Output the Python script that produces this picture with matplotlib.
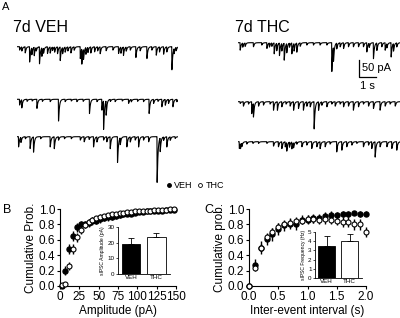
import numpy as np
import matplotlib
matplotlib.use("Agg")
import matplotlib.pyplot as plt
from matplotlib.lines import Line2D

plt.rcParams['font.family'] = ['Liberation Sans', 'DejaVu Sans']

# ---- panel A: sIPSC events (time s, amplitude pA) ----
veh1_t = [0.16, 0.29, 0.49, 0.75, 0.88, 1.02, 1.14, 1.33, 1.47, 1.57, 1.80, 1.96, 2.10, 2.22, 2.39, 2.55,
          2.69, 2.84, 3.00, 3.18, 3.37, 3.73, 3.82, 3.92, 4.06, 4.18, 4.35, 4.57, 4.75, 4.90, 5.25, 5.65,
          5.98, 6.12, 6.27, 6.43, 6.67, 7.00, 7.25, 7.65, 7.94, 8.20, 8.39, 8.63, 8.82, 9.12, 9.25, 9.37]
veh1_a = [10, 12, 18, 45, 20, 25, 10, 50, 25, 15, 20, 18, 10, 15, 20, 40,
          18, 15, 12, 18, 10, 35, 45, 30, 20, 15, 18, 15, 12, 20, 12, 10,
          20, 18, 25, 12, 10, 32, 12, 35, 10, 25, 15, 22, 15, 68, 15, 10]
veh2_t = [0.16, 0.29, 0.60, 0.90, 1.18, 1.50, 1.96, 2.45, 2.84, 3.20, 3.53, 3.90, 4.27, 4.71, 5.00, 5.10,
          5.25, 5.50, 5.78, 6.20, 6.57, 6.73, 7.10, 7.45, 7.78, 8.04, 8.30, 8.53, 8.73, 8.92, 9.18, 9.41]
veh2_a = [17, 24, 6, 5, 27, 6, 7, 64, 7, 5, 7, 6, 42, 7, 32, 84,
          42, 6, 7, 5, 12, 7, 6, 7, 42, 12, 6, 22, 17, 12, 22, 7]
veh3_t = [0.10, 0.24, 0.50, 0.78, 0.98, 1.40, 1.96, 2.20, 2.45, 2.80, 3.20, 3.73, 3.96, 4.25, 4.51, 4.71,
          5.10, 5.29, 5.49, 5.92, 6.08, 6.47, 6.67, 6.96, 7.16, 7.45, 7.75, 8.25, 8.43, 8.63, 8.82, 9.02, 9.31]
veh3_a = [30, 15, 6, 35, 45, 6, 30, 35, 10, 6, 6, 10, 15, 8, 30, 15,
          10, 15, 35, 76, 20, 30, 15, 10, 30, 10, 15, 135, 40, 10, 30, 10, 5]
thc1_t = [0.10, 0.25, 0.39, 0.88, 1.37, 1.67, 1.82, 1.96, 2.10, 2.25, 2.41, 2.55, 2.69, 2.84, 3.00, 3.14,
          3.27, 3.43, 3.63, 4.02, 4.41, 4.80, 5.20, 5.49, 5.59, 5.78, 5.98, 6.18, 6.47, 6.76, 7.06, 7.35,
          7.55, 7.69, 7.94, 8.14, 8.43, 8.63, 8.73, 8.98, 9.12, 9.31]
thc1_a = [22, 12, 10, 12, 7, 17, 12, 10, 32, 22, 37, 22, 50, 27, 12, 32,
          22, 27, 10, 7, 7, 7, 7, 85, 42, 17, 12, 17, 12, 12, 12, 12,
          27, 12, 47, 22, 12, 22, 12, 42, 22, 12]
thc2_t = [0.10, 0.29, 0.59, 0.78, 0.88, 1.18, 1.47, 1.86, 2.06, 2.29, 2.55, 2.80, 3.04, 3.24, 3.53, 3.82,
          4.02, 4.22, 4.45, 4.71, 4.90, 5.20, 5.49, 5.69, 5.98, 6.18, 6.47, 6.76, 7.06, 7.35, 7.65, 7.94,
          8.33, 8.63, 8.92, 9.22]
thc2_a = [5, 13, 7, 35, 40, 13, 10, 7, 25, 25, 15, 7, 13, 25, 20, 25,
          13, 15, 80, 25, 10, 15, 7, 13, 7, 15, 13, 25, 15, 7, 13, 20,
          25, 13, 7, 13]
thc3_t = [0.05, 0.12, 0.20, 0.49, 0.85, 1.18, 1.67, 2.06, 2.35, 2.55, 2.75, 2.84, 3.00, 3.14, 3.24, 3.43,
          3.73, 4.02, 4.31, 4.61, 4.80, 5.10, 5.39, 5.78, 6.08, 6.37, 6.67, 6.96, 7.35, 7.65, 7.84, 8.04,
          8.33, 8.73, 9.02, 9.31]
thc3_a = [20, 15, 10, 7, 5, 5, 5, 13, 15, 20, 15, 25, 15, 20, 15, 7,
          15, 10, 20, 15, 20, 15, 7, 30, 25, 15, 10, 5, 15, 10, 20, 45,
          15, 15, 20, 25]

# ---- panel B: cumulative amplitude distribution ----
amp_x = [2, 7, 12, 17, 22, 27, 32, 37, 42, 47, 52, 57, 62, 67, 72, 77, 82, 87, 92, 97,
         102, 107, 112, 117, 122, 127, 132, 137, 142, 147]
amp_veh = [0.00, 0.20, 0.48, 0.65, 0.76, 0.80, 0.80, 0.82, 0.84, 0.85, 0.87, 0.88, 0.89, 0.90, 0.91,
           0.92, 0.93, 0.94, 0.94, 0.95, 0.96, 0.96, 0.97, 0.97, 0.98, 0.98, 0.98, 0.99, 0.99, 0.99]
amp_veh_err = [0.01, 0.06, 0.07, 0.07, 0.06, 0.05, 0.05, 0.05, 0.05, 0.05, 0.05, 0.04, 0.04, 0.04, 0.04,
               0.04, 0.03, 0.03, 0.03, 0.03, 0.02, 0.02, 0.02, 0.02, 0.01, 0.01, 0.01, 0.01, 0.01, 0.01]
amp_thc = [0.01, 0.03, 0.26, 0.48, 0.63, 0.73, 0.79, 0.83, 0.86, 0.88, 0.90, 0.91, 0.92, 0.93, 0.94,
           0.95, 0.95, 0.96, 0.96, 0.97, 0.97, 0.98, 0.98, 0.98, 0.99, 0.99, 0.99, 0.99, 1.00, 1.00]
amp_thc_err = [0.01, 0.02, 0.05, 0.06, 0.06, 0.05, 0.04, 0.04, 0.03, 0.03, 0.03, 0.03, 0.02, 0.02, 0.02,
               0.02, 0.02, 0.02, 0.01, 0.01, 0.01, 0.01, 0.01, 0.01, 0.01, 0.01, 0.01, 0.01, 0.00, 0.00]
bar_groups = ['VEH', 'THC']
amp_mean = [19.0, 23.3]
amp_sem = [4.2, 2.6]

# ---- panel C: cumulative inter-event interval distribution ----
iei_x = [0.0, 0.1, 0.2, 0.3, 0.4, 0.5, 0.6, 0.7, 0.8, 0.9, 1.0, 1.1, 1.2, 1.3, 1.4, 1.5, 1.6, 1.7,
         1.8, 1.9, 2.0]
iei_veh = [0.0, 0.27, 0.50, 0.61, 0.67, 0.74, 0.79, 0.81, 0.80, 0.86, 0.86, 0.88, 0.88, 0.91, 0.92,
           0.92, 0.93, 0.93, 0.95, 0.93, 0.94]
iei_veh_err = [0.0, 0.08, 0.08, 0.08, 0.08, 0.08, 0.07, 0.07, 0.07, 0.06, 0.06, 0.06, 0.06, 0.05, 0.05,
               0.04, 0.04, 0.04, 0.03, 0.04, 0.03]
iei_thc = [0.0, 0.24, 0.50, 0.63, 0.70, 0.77, 0.80, 0.82, 0.85, 0.85, 0.87, 0.87, 0.86, 0.87, 0.86,
           0.85, 0.83, 0.83, 0.80, 0.80, 0.70]
iei_thc_err = [0.0, 0.03, 0.05, 0.05, 0.05, 0.05, 0.05, 0.05, 0.05, 0.05, 0.05, 0.05, 0.05, 0.06, 0.06,
               0.06, 0.06, 0.07, 0.07, 0.07, 0.06]
freq_mean = [3.5, 4.0]
freq_sem = [1.05, 0.8]

W, H = 400, 318
fig = plt.figure(figsize=(4.0, 3.18), dpi=100)


def px_axes(x, y_top, w, h):
    # axes placed in pixel coordinates measured from the top-left corner
    return fig.add_axes([x / W, (H - y_top - h) / H, w / W, h / H])


def trace(times, amps, dur=9.5, dt=0.002):
    t = np.arange(0, dur, dt)
    y = np.zeros_like(t)
    td, tr = 0.05, 0.004
    tp = np.log(td / tr) * td * tr / (td - tr)
    norm = np.exp(-tp / td) - np.exp(-tp / tr)
    for t0, a in zip(times, amps):
        d = t - t0
        m = d >= 0
        y[m] -= a * (np.exp(-d[m] / td) - np.exp(-d[m] / tr)) / norm
    return t, y


# 17 px per second and per 50 pA
ppx_s = 17.0
ppx_pa = 17.0 / 50.0
rows = [
    (16.7, 46.7, veh1_t, veh1_a), (16.7, 99.3, veh2_t, veh2_a), (16.7, 136.7, veh3_t, veh3_a),
    (238.3, 42.7, thc1_t, thc1_a), (238.3, 101.7, thc2_t, thc2_a), (238.3, 141.7, thc3_t, thc3_a),
]
trace_axes = []
for x0, base, tt, aa in rows:
    ax = px_axes(x0, base - 10 * ppx_pa, 9.5 * ppx_s, 160 * ppx_pa)
    t, y = trace(tt, aa)
    ax.plot(t, y, color='black', lw=0.8)
    ax.set_xlim(0, 9.5)
    ax.set_ylim(-150, 10)
    ax.axis('off')
    trace_axes.append(ax)

# scale bar in the first THC trace axes
sb = trace_axes[3]
sb.plot([7.1, 7.1, 8.1], [-50, -100, -100], color='black', lw=0.9, clip_on=False)
sb.text(7.28, -75, '50 pA', fontsize=8, va='center', ha='left')
sb.text(7.6, -127, '1 s', fontsize=8, va='center', ha='center')

fig.text(2 / W, 1 - 7 / H, 'A', fontsize=8, va='center', ha='left')
fig.text(13 / W, 1 - 28 / H, '7d VEH', fontsize=11.5, va='center', ha='left')
fig.text(235 / W, 1 - 27 / H, '7d THC', fontsize=11.5, va='center', ha='left')


def style(ax):
    for s in ['top', 'right']:
        ax.spines[s].set_visible(False)
    ax.tick_params(direction='out', length=2.5, width=0.8, labelsize=8.5, pad=1)


def cumplot(ax, x, v, ve, th, te):
    ax.errorbar(x, v, yerr=ve, fmt='o', color='black', ms=3.6, elinewidth=1.0, capsize=0, clip_on=False, zorder=3)
    ax.errorbar(x, th, yerr=te, fmt='o', color='black', mfc='white', mec='black', mew=0.8, ms=3.6,
                elinewidth=1.0, capsize=0, clip_on=False, zorder=4)
    ax.set_ylim(0, 1.0)
    ax.set_yticks(np.arange(0, 1.01, 0.2))
    ax.set_yticklabels(['%.1f' % v for v in np.arange(0, 1.01, 0.2)])
    style(ax)


def barinset(ax, means, sems, ymax, yticks, ylabel):
    pos = np.arange(len(bar_groups))
    ax.bar(pos, means, width=0.75, color=['black', 'white'], edgecolor='black', linewidth=0.6)
    ax.errorbar(pos, means, yerr=[[0, 0], sems], fmt='none', ecolor='black', elinewidth=0.6, capsize=2.2,
                capthick=0.6)
    ax.set_ylim(0, ymax)
    ax.set_yticks(yticks)
    ax.set_xticks(pos)
    ax.set_xticklabels(bar_groups)
    ax.set_xlim(-0.52, 1.55)
    for s in ['top', 'right']:
        ax.spines[s].set_visible(False)
    for s in ['left', 'bottom']:
        ax.spines[s].set_linewidth(0.6)
    ax.tick_params(direction='out', length=1.5, width=0.5, labelsize=4.5, pad=1)
    ax.tick_params(axis='x', length=0)
    ax.set_ylabel(ylabel, fontsize=3.6, labelpad=1.5)


# panel B
axB = px_axes(60, 209, 116, 77)
cumplot(axB, amp_x, amp_veh, amp_veh_err, amp_thc, amp_thc_err)
axB.set_xlim(0, 150)
axB.set_xticks([0, 25, 50, 75, 100, 125, 150])
axB.set_xlabel('Amplitude (pA)', fontsize=8.5, labelpad=1.5)
axB.set_ylabel('Cumulative Prob.', fontsize=8.5, labelpad=1.5)
fig.text(3 / W, 1 - 210 / H, 'B', fontsize=9, va='center', ha='left')

insB = px_axes(118, 227, 52, 47)
barinset(insB, amp_mean, amp_sem, 30, [0, 10, 20, 30], 'sIPSC Amplitude (pA)')

# panel C
axC = px_axes(249, 209, 117, 77)
cumplot(axC, iei_x, iei_veh, iei_veh_err, iei_thc, iei_thc_err)
axC.set_xlim(0, 2.0)
axC.set_xticks([0, 0.5, 1.0, 1.5, 2.0])
axC.set_xticklabels(['0.0', '0.5', '1.0', '1.5', '2.0'])
axC.set_xlabel('Inter-event interval (s)', fontsize=8.5, labelpad=1.5)
axC.set_ylabel('Cumulative prob.', fontsize=8.5, labelpad=1.5)
fig.text(204 / W, 1 - 210 / H, 'C', fontsize=9, va='center', ha='left')

insC = px_axes(315, 232, 47, 46)
barinset(insC, freq_mean, freq_sem, 5, [0, 1, 2, 3, 4, 5], 'sIPSC Frequency (Hz)')

handles = [Line2D([], [], marker='o', ls='none', color='black', ms=2.5),
           Line2D([], [], marker='o', ls='none', mfc='white', mec='black', mew=0.6, ms=2.8)]
fig.legend(handles, bar_groups, loc='center', bbox_to_anchor=(195 / W, 1 - 186 / H), ncol=2, frameon=False,
           fontsize=6.5, handlelength=0.6, handletextpad=0.3, columnspacing=0.5, borderpad=0)

fig.savefig('out.png', dpi=100)
